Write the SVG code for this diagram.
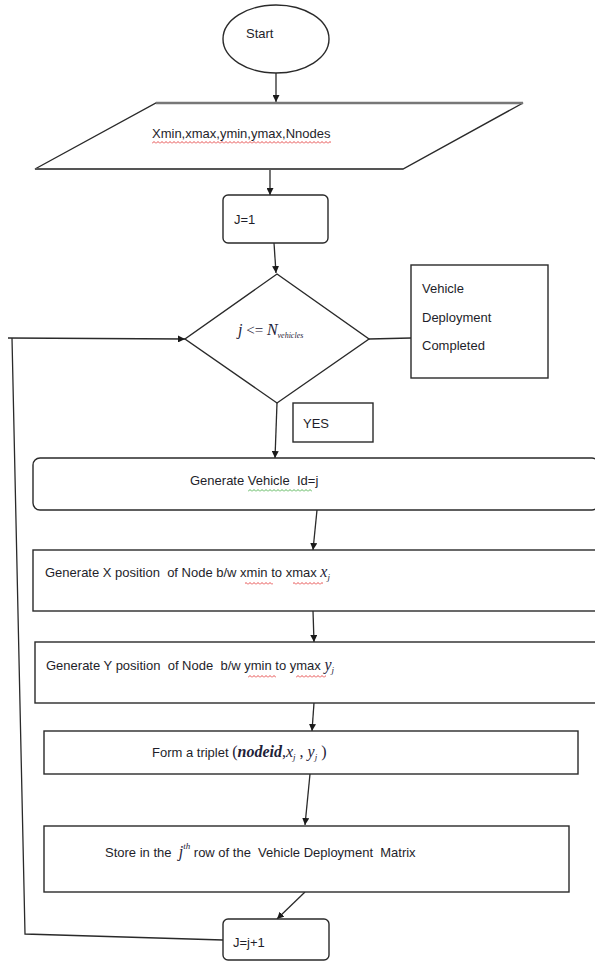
<svg xmlns="http://www.w3.org/2000/svg" width="595" height="962" viewBox="0 0 595 962">
<style>
  .shape { fill: #fff; stroke: #2a2a2a; stroke-width: 1.4; }
  .conn { fill: none; stroke: #2a2a2a; stroke-width: 1.3; }
  .t { font-family: "Liberation Sans", Arial, sans-serif; font-size: 13px; fill: #1e1e2a; white-space: pre; }
  .m { font-family: "Liberation Serif", "Times New Roman", serif; font-style: italic; fill: #1e2238; }
</style>
<defs>
  <marker id="ah" viewBox="0 0 10 10" refX="10" refY="5" markerWidth="7" markerHeight="7" markerUnits="userSpaceOnUse" orient="auto">
    <path d="M0,0 L10,5 L0,10 z" fill="#1a1a1a"/>
  </marker>
  <pattern id="wavyR" width="4" height="3" patternUnits="userSpaceOnUse">
    <path d="M0,2.5 L2,0.5 L4,2.5" fill="none" stroke="#e02020" stroke-width="0.8"/>
  </pattern>
  <pattern id="wavyG" width="4" height="3" patternUnits="userSpaceOnUse">
    <path d="M0,2.5 L2,0.5 L4,2.5" fill="none" stroke="#2aa02a" stroke-width="0.8"/>
  </pattern>
</defs>

<g id="connectors">
  <line class="conn" x1="276" y1="73" x2="276" y2="102" marker-end="url(#ah)"/>
  <line class="conn" x1="270" y1="169" x2="270" y2="195" marker-end="url(#ah)"/>
  <line class="conn" x1="274" y1="243" x2="276" y2="273" marker-end="url(#ah)"/>
  <line class="conn" x1="369" y1="339" x2="411" y2="338" stroke-width="2"/>
  <line class="conn" x1="277" y1="403" x2="275" y2="458" marker-end="url(#ah)"/>
  <line class="conn" x1="317" y1="510" x2="313" y2="550" marker-end="url(#ah)"/>
  <line class="conn" x1="313" y1="611" x2="314" y2="642" marker-end="url(#ah)"/>
  <line class="conn" x1="314" y1="703" x2="312" y2="731" marker-end="url(#ah)"/>
  <line class="conn" x1="310" y1="774" x2="305" y2="825" marker-end="url(#ah)"/>
  <line class="conn" x1="305" y1="892" x2="277" y2="919" marker-end="url(#ah)"/>
  <polyline class="conn" points="223,940 25,934 12,338" stroke-width="1.5"/>
  <line class="conn" x1="8" y1="338" x2="185" y2="339" stroke-width="2" marker-end="url(#ah)"/>
</g>

<g id="start">
  <ellipse class="shape" cx="276" cy="39" rx="53" ry="34"/>
  <text class="t" x="246" y="38">Start</text>
</g>

<g id="input">
  <polygon class="shape" points="156,103 523,103 403,169 35,169"/>
  <line x1="156" y1="103" x2="523" y2="103" stroke="#777" stroke-width="2.5"/>
  <line x1="35" y1="169" x2="403" y2="169" stroke="#555" stroke-width="2"/>
  <text class="t" x="152" y="138">Xmin,xmax,ymin,ymax,Nnodes</text>
  <rect x="152" y="141" width="179" height="3" fill="url(#wavyR)"/>
</g>

<g id="init">
  <rect class="shape" x="223" y="195" width="105" height="48" rx="5"/>
  <text class="t" x="234" y="224">J=1</text>
</g>

<g id="decision">
  <polygon class="shape" points="277,274 369,339 277,403 185,339"/>
  <text x="238" y="335"><tspan class="m" font-size="16">j</tspan><tspan font-family="Liberation Serif, serif" font-size="15" fill="#1e2238"> &lt;= </tspan><tspan class="m" font-size="16">N</tspan><tspan class="m" font-size="8" dy="3">vehicles</tspan></text>
</g>

<g id="completed">
  <rect class="shape" x="411" y="265" width="137" height="113"/>
  <text class="t" x="422" y="293">Vehicle</text>
  <text class="t" x="422" y="322">Deployment</text>
  <text class="t" x="422" y="350">Completed</text>
</g>

<g id="yes">
  <rect class="shape" x="293" y="403" width="80" height="39"/>
  <text class="t" x="303" y="428">YES</text>
</g>

<g id="gen-id">
  <rect class="shape" x="33" y="458" width="566" height="52" rx="7"/>
  <text class="t" x="190" y="485">Generate Vehicle  Id=j</text>
  <rect x="248" y="489" width="64" height="3" fill="url(#wavyG)"/>
</g>

<g id="gen-x">
  <rect class="shape" x="33" y="550" width="566" height="61"/>
  <text class="t" x="45" y="577">Generate X position  of Node b/w xmin to xmax <tspan class="m" font-size="16">x</tspan><tspan class="m" font-size="9" dy="3">j</tspan></text>
  <rect x="245" y="582" width="28" height="3" fill="url(#wavyR)"/>
  <rect x="293" y="582" width="30" height="3" fill="url(#wavyR)"/>
</g>

<g id="gen-y">
  <rect class="shape" x="35" y="642" width="564" height="61"/>
  <text class="t" x="46" y="670">Generate Y position  of Node  b/w ymin to ymax <tspan class="m" font-size="16">y</tspan><tspan class="m" font-size="9" dy="3">j</tspan></text>
  <rect x="248" y="675" width="28" height="3" fill="url(#wavyR)"/>
  <rect x="296" y="675" width="30" height="3" fill="url(#wavyR)"/>
</g>

<g id="triplet">
  <rect class="shape" x="44" y="731" width="534" height="43"/>
  <text class="t" x="152" y="757">Form a triplet <tspan font-family="Liberation Serif, serif" font-size="16" fill="#1e2238">(</tspan><tspan class="m" font-size="16" font-weight="bold">nodeid</tspan><tspan font-family="Liberation Serif, serif" font-size="16" fill="#1e2238">,</tspan><tspan class="m" font-size="16">x</tspan><tspan class="m" font-size="9" dy="3">j</tspan><tspan font-family="Liberation Serif, serif" font-size="16" fill="#1e2238" dy="-3"> , </tspan><tspan class="m" font-size="16">y</tspan><tspan class="m" font-size="9" dy="3">j</tspan><tspan font-family="Liberation Serif, serif" font-size="16" fill="#1e2238" dy="-3"> )</tspan></text>
</g>

<g id="store">
  <rect class="shape" x="44" y="826" width="525" height="66"/>
  <text class="t" x="105" y="857">Store in the  <tspan class="m" font-size="16">j</tspan><tspan class="m" font-size="9" dy="-8">th</tspan><tspan dy="8"> row of the  Vehicle Deployment  Matrix</tspan></text>
</g>

<g id="increment">
  <rect class="shape" x="223" y="919" width="106" height="41" rx="5"/>
  <text class="t" x="233" y="947">J=j+1</text>
</g>
</svg>
